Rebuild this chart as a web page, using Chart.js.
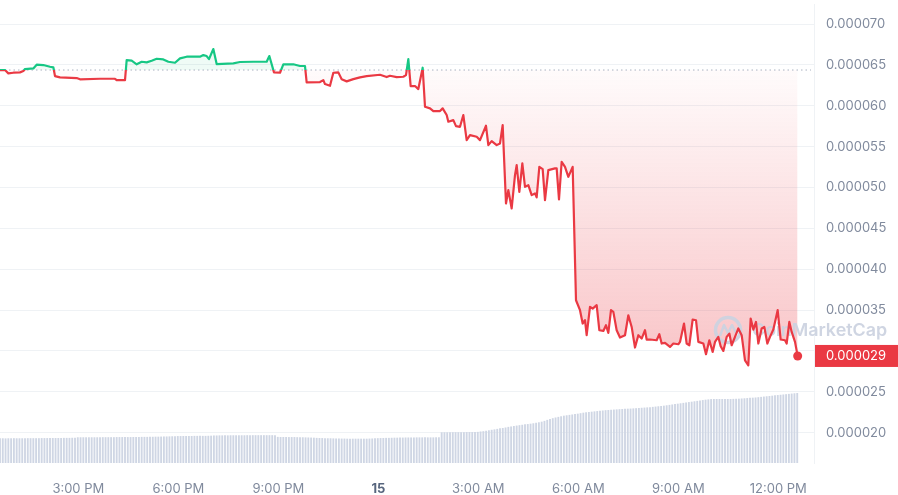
<!DOCTYPE html>
<html>
<head>
<meta charset="utf-8">
<script src="https://cdn.jsdelivr.net/npm/chart.js@4.4.1/dist/chart.umd.min.js"></script>
<style>
  html, body { margin: 0; padding: 0; background: #fff; }
  #wrap { position: relative; width: 898px; height: 495px; }
</style>
</head>
<body>
<div id="wrap"><canvas id="priceChart"></canvas></div>
<script>
// price samples: hour of day (14th = 0..24, 15th = 24..48) and price in USD
const priceTimes = [
  12.65, 12.80, 12.90, 13.05, 13.25, 13.35, 13.40, 13.65, 13.75, 13.95, 14.15, 14.25, 14.30, 14.45, 14.95, 15.05,
  15.65, 16.10, 16.15, 16.40, 16.45, 16.60, 16.75, 16.90, 17.05, 17.20, 17.35, 17.55, 17.70, 17.90, 18.05, 18.25,
  18.65, 18.75, 18.85, 18.92, 19.05, 19.15, 19.65, 19.85, 20.25, 20.65, 20.73, 20.87, 21.05, 21.15, 21.45, 21.65,
  21.80, 21.85, 22.25, 22.35, 22.40, 22.55, 22.65, 22.80, 22.90, 23.05, 23.25, 23.45, 23.65, 24.05, 24.25, 24.35,
  24.55, 24.75, 24.83, 24.90, 24.97, 25.10, 25.20, 25.33, 25.40, 25.55, 25.65, 25.85, 25.93, 26.05, 26.10, 26.25,
  26.33, 26.45, 26.55, 26.65, 26.75, 26.95, 27.05, 27.23, 27.30, 27.40, 27.55, 27.65, 27.73, 27.83, 27.90, 28.00,
  28.10, 28.15, 28.23, 28.32, 28.40, 28.50, 28.60, 28.70, 28.75, 28.83, 28.93, 29.00, 29.10, 29.30, 29.35, 29.42,
  29.50, 29.60, 29.70, 29.83, 29.93, 30.05, 30.13, 30.20, 30.25, 30.35, 30.43, 30.55, 30.63, 30.75, 30.83, 30.90,
  30.98, 31.05, 31.15, 31.25, 31.40, 31.50, 31.60, 31.70, 31.80, 31.90, 32.00, 32.05, 32.15, 32.35, 32.43, 32.50,
  32.60, 32.75, 32.85, 33.00, 33.05, 33.17, 33.25, 33.33, 33.43, 33.53, 33.60, 33.75, 33.83, 33.93, 34.03, 34.10,
  34.20, 34.27, 34.35, 34.45, 34.53, 34.60, 34.70, 34.80, 34.90, 35.00, 35.10, 35.17, 35.25, 35.33, 35.40, 35.50,
  35.58, 35.67, 35.75, 35.85, 35.98, 36.07, 36.20, 36.25, 36.33, 36.40, 36.50, 36.58
];
const prices = [
  0.00006437, 0.00006437, 0.00006396, 0.00006404, 0.00006408, 0.00006424, 0.00006449, 0.00006457, 0.00006502, 0.00006498, 0.00006477, 0.00006470, 0.00006363, 0.00006347, 0.00006339, 0.00006323,
  0.00006330, 0.00006330, 0.00006314, 0.00006314, 0.00006559, 0.00006551, 0.00006507, 0.00006538, 0.00006531, 0.00006551, 0.00006575, 0.00006567, 0.00006538, 0.00006526, 0.00006580, 0.00006600,
  0.00006600, 0.00006620, 0.00006608, 0.00006571, 0.00006694, 0.00006510, 0.00006519, 0.00006535, 0.00006538, 0.00006538, 0.00006608, 0.00006408, 0.00006404, 0.00006507, 0.00006507, 0.00006486,
  0.00006486, 0.00006286, 0.00006290, 0.00006314, 0.00006265, 0.00006244, 0.00006404, 0.00006408, 0.00006323, 0.00006298, 0.00006326, 0.00006347, 0.00006363, 0.00006379, 0.00006351, 0.00006367,
  0.00006351, 0.00006355, 0.00006375, 0.00006571, 0.00006241, 0.00006241, 0.00006204, 0.00006465, 0.00005987, 0.00005968, 0.00005935, 0.00005935, 0.00005968, 0.00005886, 0.00005804, 0.00005824,
  0.00005751, 0.00005742, 0.00005886, 0.00005579, 0.00005641, 0.00005620, 0.00005579, 0.00005755, 0.00005518, 0.00005567, 0.00005518, 0.00005539, 0.00005763, 0.00004804, 0.00004967, 0.00004743,
  0.00005151, 0.00005273, 0.00004946, 0.00005294, 0.00005008, 0.00005028, 0.00004906, 0.00004927, 0.00004878, 0.00005252, 0.00005224, 0.00004845, 0.00005212, 0.00005233, 0.00005233, 0.00004853,
  0.00005314, 0.00005252, 0.00005130, 0.00005252, 0.00003620, 0.00003498, 0.00003335, 0.00003375, 0.00003192, 0.00003538, 0.00003518, 0.00003559, 0.00003253, 0.00003244, 0.00003314, 0.00003220,
  0.00003498, 0.00003477, 0.00003253, 0.00003163, 0.00003192, 0.00003436, 0.00003293, 0.00003041, 0.00003192, 0.00003151, 0.00003253, 0.00003139, 0.00003139, 0.00003130, 0.00003204, 0.00003090,
  0.00003097, 0.00003048, 0.00003090, 0.00003081, 0.00003110, 0.00003335, 0.00003090, 0.00003069, 0.00003384, 0.00003375, 0.00003110, 0.00003090, 0.00002959, 0.00003130, 0.00002987, 0.00003110,
  0.00003171, 0.00003057, 0.00002999, 0.00003171, 0.00003212, 0.00003069, 0.00003171, 0.00003274, 0.00003192, 0.00002885, 0.00002824, 0.00003396, 0.00003261, 0.00003354, 0.00003090, 0.00003274,
  0.00003293, 0.00003090, 0.00003171, 0.00003261, 0.00003498, 0.00003139, 0.00003130, 0.00003090, 0.00003354, 0.00003232, 0.00003110, 0.00002938
];
// 5-minute volume bars (millions), first bar at the first price sample
const volumes = [
  2.44, 2.44, 2.43, 2.44, 2.44, 2.45, 2.44, 2.44, 2.44, 2.45, 2.45, 2.45,
  2.45, 2.45, 2.45, 2.46, 2.46, 2.46, 2.46, 2.47, 2.47, 2.47, 2.47, 2.48,
  2.48, 2.48, 2.49, 2.49, 2.54, 2.54, 2.54, 2.54, 2.54, 2.54, 2.54, 2.54,
  2.54, 2.55, 2.55, 2.55, 2.55, 2.55, 2.56, 2.56, 2.56, 2.56, 2.56, 2.56,
  2.57, 2.57, 2.57, 2.58, 2.58, 2.58, 2.58, 2.59, 2.60, 2.60, 2.61, 2.62,
  2.62, 2.63, 2.64, 2.65, 2.66, 2.66, 2.67, 2.67, 2.67, 2.67, 2.68, 2.68,
  2.68, 2.68, 2.68, 2.69, 2.70, 2.72, 2.72, 2.73, 2.73, 2.73, 2.73, 2.74,
  2.74, 2.74, 2.74, 2.74, 2.74, 2.75, 2.75, 2.75, 2.75, 2.75, 2.75, 2.75,
  2.75, 2.75, 2.75, 2.74, 2.58, 2.57, 2.57, 2.57, 2.56, 2.56, 2.56, 2.55,
  2.55, 2.54, 2.53, 2.52, 2.51, 2.50, 2.48, 2.47, 2.46, 2.45, 2.44, 2.44,
  2.43, 2.42, 2.42, 2.41, 2.41, 2.40, 2.40, 2.40, 2.40, 2.40, 2.40, 2.40,
  2.40, 2.41, 2.42, 2.44, 2.45, 2.46, 2.47, 2.48, 2.48, 2.49, 2.50, 2.50,
  2.51, 2.51, 2.52, 2.52, 2.52, 2.52, 2.53, 2.53, 2.53, 2.53, 2.53, 2.53,
  2.53, 2.54, 2.54, 3.04, 3.04, 3.04, 3.04, 3.05, 3.05, 3.05, 3.05, 3.05,
  3.06, 3.06, 3.06, 3.07, 3.08, 3.12, 3.15, 3.19, 3.24, 3.29, 3.33, 3.38,
  3.43, 3.47, 3.52, 3.58, 3.62, 3.67, 3.71, 3.75, 3.79, 3.83, 3.86, 3.90,
  3.94, 3.99, 4.04, 4.10, 4.18, 4.28, 4.37, 4.45, 4.52, 4.58, 4.64, 4.70,
  4.74, 4.78, 4.82, 4.86, 4.90, 4.95, 5.00, 5.04, 5.07, 5.10, 5.13, 5.16,
  5.19, 5.22, 5.25, 5.27, 5.29, 5.31, 5.33, 5.35, 5.37, 5.39, 5.40, 5.41,
  5.43, 5.45, 5.47, 5.49, 5.51, 5.53, 5.55, 5.58, 5.61, 5.64, 5.67, 5.70,
  5.74, 5.78, 5.82, 5.86, 5.90, 5.94, 5.98, 6.02, 6.06, 6.10, 6.14, 6.18,
  6.22, 6.26, 6.30, 6.33, 6.36, 6.37, 6.37, 6.37, 6.37, 6.37, 6.37, 6.37,
  6.38, 6.39, 6.40, 6.42, 6.44, 6.46, 6.48, 6.50, 6.52, 6.55, 6.58, 6.61,
  6.64, 6.67, 6.70, 6.73, 6.76, 6.79, 6.82, 6.85, 6.88, 6.91, 6.94, 6.97
];
const volStartHour = 12.65;
const volStepHours = 5 / 60;

const yTickValues = [0.00002, 0.000025, 0.00003, 0.000035, 0.00004, 0.000045, 0.00005, 0.000055, 0.00006, 0.000065, 0.00007];
const xTickHours = [15, 18, 21, 24, 27, 30, 33, 36];
const xTickLabels = ["3:00 PM", "6:00 PM", "9:00 PM", "15", "3:00 AM", "6:00 AM", "9:00 AM", "12:00 PM"];

const UP = "#16c784";
const DOWN = "#ea3943";
const GRID = "#eff2f5";
const LABEL = "#808a9d";
const WATERMARK = "rgba(204,211,224,0.95)";
const openPrice = prices[0];
const lastPrice = prices[prices.length - 1];

const priceData = priceTimes.map((t, i) => ({ x: t, y: prices[i] }));
const volumeData = volumes.map((v, i) => ({ x: volStartHour + i * volStepHours, y: v }));

function splitStroke(context) {
  const chart = context.chart;
  const area = chart.chartArea;
  if (!area) return DOWN;
  const py = chart.scales.y.getPixelForValue(openPrice);
  const stop = Math.min(Math.max((py - area.top) / (area.bottom - area.top), 0), 1);
  const g = chart.ctx.createLinearGradient(0, area.top, 0, area.bottom);
  g.addColorStop(0, UP);
  g.addColorStop(stop, UP);
  g.addColorStop(stop, DOWN);
  g.addColorStop(1, DOWN);
  return g;
}

function downFill(context) {
  const chart = context.chart;
  const area = chart.chartArea;
  if (!area) return "rgba(234,57,67,0.1)";
  const y = chart.scales.y;
  const top = y.getPixelForValue(openPrice);
  const bottom = y.getPixelForValue(lastPrice);
  const g = chart.ctx.createLinearGradient(0, top, 0, bottom);
  g.addColorStop(0, "rgba(234,57,67,0.02)");
  g.addColorStop(1, "rgba(234,57,67,0.29)");
  return g;
}

const overlays = {
  id: "overlays",
  beforeDatasetsDraw(chart) {
    const { ctx, chartArea, scales } = chart;
    const py = scales.y.getPixelForValue(openPrice);
    // open price reference
    ctx.save();
    ctx.strokeStyle = "#aab2c2";
    ctx.lineWidth = 1;
    ctx.setLineDash([1.5, 3]);
    ctx.beginPath();
    ctx.moveTo(chartArea.left, py);
    ctx.lineTo(chartArea.right - 3, py);
    ctx.stroke();
    ctx.restore();
  },
  beforeDatasetDraw(chart, args) {
    // area fill is already painted (filler runs before datasets), line not yet
    if (args.index !== 0) return;
    const ctx = chart.ctx;
    ctx.save();
    ctx.strokeStyle = WATERMARK;
    ctx.lineWidth = 3.5;
    ctx.lineJoin = "round";
    ctx.beginPath();
    ctx.arc(728, 330, 12.5, 0, Math.PI * 2);
    ctx.stroke();
    ctx.lineWidth = 2.5;
    ctx.beginPath();
    ctx.moveTo(720, 336);
    ctx.lineTo(724, 325);
    ctx.lineTo(728, 333);
    ctx.lineTo(732, 325);
    ctx.lineTo(736, 333);
    ctx.stroke();
    ctx.fillStyle = WATERMARK;
    ctx.font = "600 18px Inter";
    const w = ctx.measureText("CoinMarketCap").width;
    const size = 18 * 135 / w;
    ctx.font = "600 " + size.toFixed(1) + "px Inter";
    ctx.textBaseline = "middle";
    ctx.fillText("CoinMarketCap", 752, 331);
    ctx.restore();
  },
  afterDraw(chart) {
    const { ctx, chartArea, scales } = chart;
    const py = scales.y.getPixelForValue(lastPrice);
    ctx.save();
    ctx.fillStyle = DOWN;
    ctx.fillRect(chartArea.right + 1, py - 11, chart.width - chartArea.right - 1, 22);
    ctx.fillStyle = "#fff";
    ctx.font = "13px Inter";
    ctx.textBaseline = "middle";
    ctx.fillText(lastPrice.toFixed(6), chartArea.right + 12, py);
    ctx.restore();
  }
};

new Chart(document.getElementById("priceChart"), {
  type: "line",
  data: {
    datasets: [
      {
        type: "line",
        data: priceData,
        yAxisID: "y",
        order: 0,
        borderColor: splitStroke,
        borderWidth: 2.2,
        borderJoinStyle: "round",
        tension: 0,
        backgroundColor: downFill,
        fill: { target: { value: openPrice }, above: "rgba(22,199,132,0.07)" },
        pointRadius: ctx => (ctx.dataIndex === prices.length - 1 ? 4.5 : 0),
        pointBackgroundColor: DOWN,
        pointBorderWidth: 0,
        pointHoverRadius: 0
      },
      {
        type: "bar",
        data: volumeData,
        yAxisID: "vol",
        order: 1,
        backgroundColor: "#cfd6e4",
        barThickness: 1.2
      }
    ]
  },
  options: {
    responsive: true,
    maintainAspectRatio: false,
    animation: false,
    layout: { padding: 0, autoPadding: false },
    plugins: {
      legend: { display: false },
      tooltip: { enabled: false },
      filler: { drawTime: "beforeDatasetsDraw" }
    },
    scales: {
      x: {
        type: "linear",
        min: 12.65,
        max: 37.07,
        offset: false,
        grid: { display: false },
        border: { display: false },
        afterBuildTicks: scale => { scale.ticks = xTickHours.map(v => ({ value: v })); },
        afterFit: scale => { scale.height = 32; scale.paddingLeft = 0; scale.paddingRight = 0; },
        ticks: {
          padding: 10,
          maxRotation: 0,
          autoSkip: false,
          color: ctx => (ctx.tick && ctx.tick.value === 24 ? "#58667e" : LABEL),
          font: ctx => ({ family: "Inter", size: 13, weight: ctx.tick && ctx.tick.value === 24 ? "bold" : "normal" }),
          callback: value => xTickLabels[xTickHours.indexOf(value)]
        }
      },
      y: {
        position: "right",
        min: 0.00001628,
        max: 0.00007245,
        grid: { color: GRID, drawTicks: true, tickLength: 12, tickColor: "rgba(0,0,0,0)" },
        border: { display: true, color: GRID },
        afterBuildTicks: scale => { scale.ticks = yTickValues.map(v => ({ value: v })); },
        afterFit: scale => { scale.width = 84; scale.paddingTop = 4; scale.paddingBottom = 0; },
        ticks: {
          padding: 0,
          color: LABEL,
          font: { family: "Inter", size: 13 },
          callback: value => Number(value).toFixed(6)
        }
      },
      vol: {
        display: false,
        min: 0,
        max: 45.9
      }
    }
  },
  plugins: [overlays]
});
</script>
</body>
</html>
